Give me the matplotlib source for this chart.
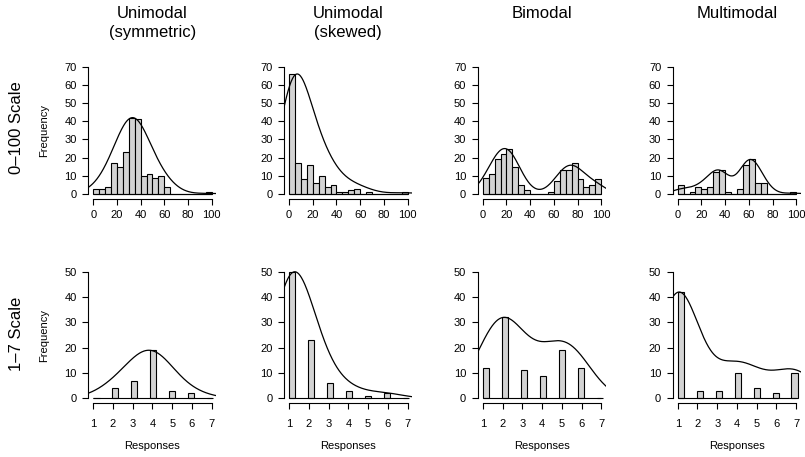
import matplotlib
matplotlib.use("Agg")
import matplotlib.pyplot as plt
import numpy as np

plt.rcParams['font.family'] = ['Liberation Sans', 'DejaVu Sans']

titles = ["Unimodal\n(symmetric)", "Unimodal\n(skewed)", "Bimodal", "Multimodal"]
row_labels = ["0\u2013100 Scale", "1\u20137 Scale"]

# 0-100 scale: counts in bins of width 5 (0-5, 5-10, ..., 95-100)
bin_edges = np.arange(0, 105, 5)
sym_100 = [3, 3, 4, 17, 15, 23, 42, 41, 10, 11, 9, 10, 4, 0, 0, 0, 0, 0, 0, 1]
skew_100 = [66, 17, 8, 16, 6, 10, 4, 5, 1, 1, 2, 3, 0, 1, 0, 0, 0, 0, 0, 1]
bi_100 = [9, 11, 19, 22, 25, 15, 5, 2, 0, 0, 0, 1, 7, 13, 13, 17, 8, 4, 5, 8]
multi_100 = [5, 0, 1, 4, 3, 4, 12, 13, 1, 0, 3, 16, 19, 6, 6, 0, 0, 0, 0, 1]

# 1-7 scale: counts per response value
resp_7 = [1, 2, 3, 4, 5, 6, 7]
sym_7 = [0, 4, 7, 19, 3, 2, 0]
skew_7 = [50, 23, 6, 3, 1, 2, 0]
bi_7 = [12, 32, 11, 9, 19, 12, 0]
multi_7 = [42, 3, 3, 10, 4, 2, 10]

top_counts = [sym_100, skew_100, bi_100, multi_100]
bot_counts = [sym_7, skew_7, bi_7, multi_7]
top_bw = [12, 12, 9, 8]
bot_bw = [1.05, 0.9, 1.0, 1.0]


def smooth_curve(x, w, grid, bw):
    d = (grid[:, None] - x[None, :]) / bw
    k = np.exp(-0.5 * d ** 2) @ w
    return k / k.max() * w.max()


def r_axes(ax, xt, yt):
    for s in ['top', 'right']:
        ax.spines[s].set_visible(False)
    ax.spines['left'].set_bounds(yt[0], yt[-1])
    ax.spines['bottom'].set_bounds(xt[0], xt[-1])
    ax.set_xticks(xt)
    ax.set_yticks(yt)
    ax.tick_params(length=4.5, width=0.8, labelsize=8, colors='black')
    for s in ['left', 'bottom']:
        ax.spines[s].set_linewidth(0.8)


fig = plt.figure(figsize=(8.05, 4.57), dpi=100)
lefts = [0.1099, 0.3532, 0.5938, 0.836]
w_ax = 0.159

for i in range(4):
    # top row
    ax = fig.add_axes([lefts[i], 0.5643, w_ax, 0.3009])
    cnt = np.array(top_counts[i], dtype=float)
    ax.bar(bin_edges[:-1], cnt, width=5, align='edge', color='#d3d3d3',
           edgecolor='black', linewidth=0.8)
    ax.hlines(0, 0, 100, color='black', linewidth=0.8)
    grid = np.linspace(-4, 104, 300)
    mids = bin_edges[:-1] + 2.5
    ax.plot(grid, smooth_curve(mids, cnt, grid, top_bw[i]), color='black', linewidth=0.9)
    ax.set_xlim(-4, 104)
    ax.set_ylim(-2.8, 72.8)
    r_axes(ax, np.arange(0, 101, 20), np.arange(0, 71, 10))
    ax.tick_params(axis='x', pad=3.5)
    ax.tick_params(axis='y', pad=4)
    fig.text(lefts[i] + w_ax / 2, 0.987, titles[i], ha='center', va='top',
             fontsize=12, linespacing=1.3)
    if i == 0:
        ax.set_ylabel("Frequency", fontsize=8, labelpad=11)

    # bottom row
    ax = fig.add_axes([lefts[i], 0.1173, w_ax, 0.2991])
    cnt = np.array(bot_counts[i], dtype=float)
    vals = np.array(resp_7, dtype=float)
    bar_w = 0.32
    ax.bar(1 + 3 * (vals - 1) * bar_w, cnt, width=bar_w, align='edge', color='#d3d3d3',
           edgecolor='black', linewidth=0.8)
    ax.hlines(0, 1, 7, color='black', linewidth=0.8)
    grid = np.linspace(0.76, 7.24, 300)
    ax.plot(grid, smooth_curve(vals, cnt, grid, bot_bw[i]), color='black', linewidth=0.9)
    ax.set_xlim(0.76, 7.24)
    ax.set_ylim(-2, 52)
    r_axes(ax, np.arange(1, 8), np.arange(0, 51, 10))
    ax.tick_params(axis='x', pad=6.5)
    ax.tick_params(axis='y', pad=4)
    ax.set_xlabel("Responses", fontsize=8, labelpad=9)
    if i == 0:
        ax.set_ylabel("Frequency", fontsize=8, labelpad=11)

fig.text(0.02, 1 - 128 / 457, row_labels[0], rotation=90, ha='center', va='center', fontsize=12)
fig.text(0.02, 1 - 334 / 457, row_labels[1], rotation=90, ha='center', va='center', fontsize=12)

fig.savefig("out.png", dpi=100)
